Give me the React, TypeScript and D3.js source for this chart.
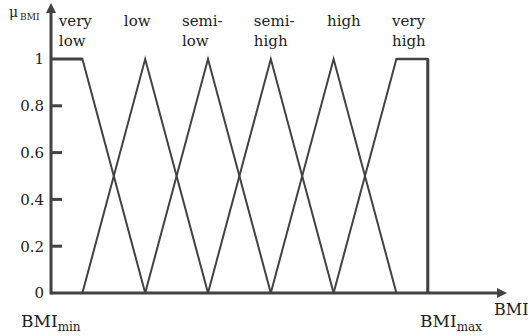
import React from "react";
import * as d3 from "d3";

// membership functions: breakpoints on the BMI axis (arbitrary units) and their mu values
const setNames = ["very low", "low", "semi-low", "semi-high", "high", "very high"];
const setLines = [
  ["very", "low"],
  ["low"],
  ["semi-", "low"],
  ["semi-", "high"],
  ["high"],
  ["very", "high"],
];
const setXs = [
  [0, 1, 3],
  [1, 3, 5],
  [3, 5, 7],
  [5, 7, 9],
  [7, 9, 11],
  [9, 11, 12, 12],
];
const setMus = [
  [1, 1, 0],
  [0, 1, 0],
  [0, 1, 0],
  [0, 1, 0],
  [0, 1, 0],
  [0, 1, 1, 0],
];
// left edge of each label, in BMI units
const labelXs = [0.25, 2.32, 4.17, 6.46, 8.79, 10.86];

const yTicks = [0, 0.2, 0.4, 0.6, 0.8, 1];
const yTickLabels = ["0", "0.2", "0.4", "0.6", "0.8", "1"];

const W = 528;
const H = 336;
const FONT = "'DejaVu Serif', serif";
const INK = "#424242";

export default function App() {
  const x = d3.scaleLinear().domain([0, 12]).range([51, 427.8]);
  const y = d3.scaleLinear().domain([0, 1]).range([293, 59]);
  const xEnd = 507;
  const yTop = 3;

  const line = d3
    .line<[number, number]>()
    .x((d) => x(d[0]))
    .y((d) => y(d[1]));

  const curves = setXs.map((xs, i) =>
    xs.map((v, j) => [v, setMus[i][j]] as [number, number])
  );

  return (
    <svg
      width={W}
      height={H}
      style={{ position: "absolute", left: 0, top: 0, background: "#fff" }}
      fontFamily={FONT}
    >
      {/* membership functions */}
      {curves.map((pts, i) => (
        <path
          key={setNames[i]}
          d={line(pts) || ""}
          fill="none"
          stroke={INK}
          strokeWidth={2}
        />
      ))}
      {/* the BMI_max edge is drawn heavier */}
      <line
        x1={x(12)}
        x2={x(12)}
        y1={y(1)}
        y2={y(0)}
        stroke={INK}
        strokeWidth={3}
      />
      <line
        x1={x(11)}
        x2={x(12)}
        y1={y(1)}
        y2={y(1)}
        stroke={INK}
        strokeWidth={2.5}
      />
      <line
        x1={x(0)}
        x2={x(1)}
        y1={y(1)}
        y2={y(1)}
        stroke={INK}
        strokeWidth={3}
      />

      {/* axes */}
      <line x1={x(0)} x2={xEnd - 8} y1={y(0)} y2={y(0)} stroke={INK} strokeWidth={3} />
      <path
        d={`M${xEnd},${y(0)} L${xEnd - 10},${y(0) - 5} L${xEnd - 10},${y(0) + 5} Z`}
        fill={INK}
      />
      <line x1={x(0)} x2={x(0)} y1={y(0) + 1.5} y2={yTop + 8} stroke={INK} strokeWidth={3} />
      <path
        d={`M${x(0)},${yTop} L${x(0) - 5},${yTop + 10} L${x(0) + 5},${yTop + 10} Z`}
        fill={INK}
      />

      {/* y ticks */}
      {yTicks.map((t, i) => (
        <g key={t}>
          {t > 0 && t < 1 && (
            <line
              x1={x(0)}
              x2={x(0) + 11}
              y1={y(t)}
              y2={y(t)}
              stroke={INK}
              strokeWidth={3}
            />
          )}
          <text
            x={44}
            y={y(t)}
            dy="0.36em"
            textAnchor="end"
            fontSize={15}
            fill="#222"
          >
            {yTickLabels[i]}
          </text>
        </g>
      ))}

      {/* set labels */}
      {setLines.map((lines, i) => (
        <text key={setNames[i]} x={x(labelXs[i])} y={26} fontSize={15} fill="#222">
          {lines.map((l, j) => (
            <tspan key={j} x={x(labelXs[i])} dy={j === 0 ? 0 : 20}>
              {l}
            </tspan>
          ))}
        </text>
      ))}

      {/* axis titles */}
      <text x={9} y={17} fontSize={14} fill="#222">
        μ
        <tspan fontSize={9} dy={3} dx={2}>
          BMI
        </tspan>
      </text>
      <text x={21} y={327} fontSize={17} fill="#222">
        BMI
        <tspan fontSize={12} dy={4}>
          min
        </tspan>
      </text>
      <text x={420} y={327} fontSize={17} fill="#222">
        BMI
        <tspan fontSize={12} dy={4}>
          max
        </tspan>
      </text>
      <text x={494} y={315} fontSize={16} fill="#222">
        BMI
      </text>
    </svg>
  );
}
